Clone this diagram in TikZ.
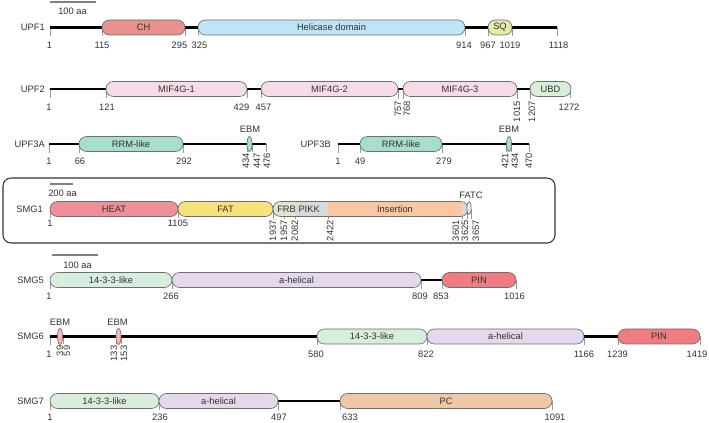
\documentclass[tikz,border=0pt]{standalone}
\usepackage{fontspec}
\setmainfont{Liberation Sans}
\usepackage{xcolor}
\usepackage{tikz}

\definecolor{txtgray}{HTML}{333333}
\definecolor{edgegray}{HTML}{6E6E6E}
\definecolor{chred}{HTML}{E8918D}
\definecolor{heliblue}{HTML}{BEE4F7}
\definecolor{sqyel}{HTML}{E6EBA8}
\definecolor{mifpink}{HTML}{F6DCE9}
\definecolor{ubdgreen}{HTML}{D9EED8}
\definecolor{rrmteal}{HTML}{A6DDCB}
\definecolor{heatred}{HTML}{EE8F99}
\definecolor{fatyel}{HTML}{F7E27C}
\definecolor{frbgreen}{HTML}{DCE6D0}
\definecolor{pikkgray}{HTML}{D9D9D9}
\definecolor{insorange}{HTML}{F9C7A1}
\definecolor{fourteen}{HTML}{D7EEDF}
\definecolor{ahelix}{HTML}{E3D8EC}
\definecolor{pinred}{HTML}{EF7C80}
\definecolor{ebmpink}{HTML}{F3B9BE}
\definecolor{ebmedge}{HTML}{9E5B55}
\definecolor{pcorange}{HTML}{EEC7A7}

\begin{document}
\begin{tikzpicture}[x=0.75pt, y=-0.75pt,
    every node/.style={font=\fontsize{7}{8}\selectfont, text=txtgray, inner sep=0pt},
    pname/.style={anchor=east},
    chain/.style={line width=1.6pt, black},
    dom/.style={draw=edgegray, line width=0.5pt, rounded corners=5.6pt},
    tick/.style={draw=gray!80, line width=0.4pt},
    vnum/.style={rotate=90, anchor=east},
    sbar/.style={draw=gray, line width=0.8pt}]
    \useasboundingbox (0,0) rectangle (709,423);

    % UPF1
    \def\yy{27.5}
    \draw[sbar] (50,2) -- (96,2);
    \node[anchor=west] (bar1) at (58,11) {100 aa};
    \node[pname] (upf1) at (45,\yy) {UPF1};
    \foreach \x/\lx/\n in {50/49.5/1,102/102/115,185/179.5/295,198/199.5/325,465/464/914,488/488/967,512/510/1019,557/558.5/1118} {
        \draw[tick] (\x,\yy) -- ++(0,9);
        \node (upf1-n\n) at (\lx,\yy+17.5) {\n};
    }
    \coordinate (upf1-s) at (50,\yy);
    \coordinate (upf1-e) at (557,\yy);
    \draw[chain] (upf1-s) -- (upf1-e);
    \foreach \nm/\xa/\xb/\col/\txt in {ch/102/185/chred/CH, hel/198/465/heliblue/Helicase domain, sq/488/512/sqyel/SQ}
        \draw[dom, fill=\col] (\xa,\yy-7.5) rectangle (\xb,\yy+7.5)
            node (upf1-\nm) at ({(\xa+\xb)/2},\yy) {\txt};

    % UPF2
    \def\yy{89}
    \node[pname] (upf2) at (45,\yy) {UPF2};
    \foreach \x/\lx/\n in {50/49/1,106/107/121,247/241.5/429,261/263.5/457,570/569/1272} {
        \draw[tick] (\x,\yy) -- ++(0,9);
        \node (upf2-n\n) at (\lx,\yy+18.5) {\n};
    }
    \foreach \x/\lx/\n in {398/398/757,403/407/768,517/517/1015,530/532/1207} {
        \draw[tick] (\x,\yy) -- ++(0,10);
        \node[vnum] (upf2-n\n) at (\lx,\yy+12) {\n};
    }
    \coordinate (upf2-s) at (50,\yy);
    \coordinate (upf2-e) at (570,\yy);
    \draw[chain] (upf2-s) -- (upf2-e);
    \foreach \nm/\xa/\xb/\col/\txt in {mif1/106/247/mifpink/MIF4G-1, mif2/261/398/mifpink/MIF4G-2, mif3/403/517/mifpink/MIF4G-3, ubd/530/571/ubdgreen/UBD}
        \draw[dom, fill=\col] (\xa,\yy-7.5) rectangle (\xb,\yy+7.5)
            node (upf2-\nm) at ({(\xa+\xb)/2},\yy) {\txt};

    % UPF3A and UPF3B
    \def\yy{144}
    \node[pname] (upf3a) at (45,\yy) {UPF3A};
    \node[pname] (upf3b) at (331,\yy) {UPF3B};
    \foreach \x/\lx/\n in {49/49/1,79/80/66,183/184/292} {
        \draw[tick] (\x,\yy) -- ++(0,9);
        \node (upf3a-n\n) at (\lx,\yy+17) {\n};
    }
    \foreach \x/\lx/\n in {338/338/1,360/360/49,442/444/279} {
        \draw[tick] (\x,\yy) -- ++(0,9);
        \node (upf3b-n\n) at (\lx,\yy+17) {\n};
    }
    \foreach \x/\lx/\n in {247/246/434,252/257/447,266/267/476} {
        \draw[tick] (\x,\yy) -- ++(0,8);
        \node[vnum] (upf3a-n\n) at (\lx,\yy+9) {\n};
    }
    \foreach \x/\lx/\n in {506.5/505/421,511.5/515/434,529/529/470} {
        \draw[tick] (\x,\yy) -- ++(0,8);
        \node[vnum] (upf3b-n\n) at (\lx,\yy+9) {\n};
    }
    \coordinate (upf3a-s) at (49,\yy);
    \coordinate (upf3a-e) at (266,\yy);
    \coordinate (upf3b-s) at (338,\yy);
    \coordinate (upf3b-e) at (529,\yy);
    \draw[chain] (upf3a-s) -- (upf3a-e);
    \draw[chain] (upf3b-s) -- (upf3b-e);
    \draw[dom, fill=rrmteal] (79,\yy-7.5) rectangle (183,\yy+7.5)
        node (upf3a-rrm) at (131,\yy) {RRM-like};
    \draw[dom, fill=rrmteal] (360,\yy-7.5) rectangle (442,\yy+7.5)
        node (upf3b-rrm) at (401,\yy) {RRM-like};
    \draw[draw=edgegray, line width=0.5pt, fill=rrmteal] (249.5,\yy) ellipse [x radius=1.9pt, y radius=5.6pt];
    \draw[draw=edgegray, line width=0.5pt, fill=rrmteal] (509,\yy) ellipse [x radius=1.9pt, y radius=5.6pt];
    \node (upf3a-ebm) at (250,\yy-15) {EBM};
    \node (upf3b-ebm) at (509,\yy-15) {EBM};

    % SMG1 (boxed)
    \def\yy{209}
    \draw[draw=black!80, line width=0.8pt, rounded corners=6pt] (3,178) rectangle (555,243);
    \draw[sbar] (50,184) -- (73,184);
    \node[anchor=west] (bar2) at (48,193) {200 aa};
    \node[pname] (smg1) at (43,\yy) {SMG1};
    \foreach \x/\n in {50/1,178/1105} {
        \draw[tick] (\x,\yy) -- ++(0,9);
        \node (smg1-n\n) at (\x,\yy+14.5) {\n};
    }
    \foreach \x/\lx/\n in {273/273/1937,284/284/1957,295/295/2082,328/330/2422,462/456/3601,467/465/3625,471/476/3657} {
        \draw[tick] (\x,\yy) -- ++(0,10);
        \node[vnum] (smg1-n\n) at (\lx,\yy+11) {\n};
    }
    \draw[dom, fill=heatred] (50,\yy-7.5) rectangle (178,\yy+7.5)
        node (smg1-heat) at (114,\yy) {HEAT};
    \draw[dom, fill=fatyel] (178,\yy-7.5) rectangle (273,\yy+7.5)
        node (smg1-fat) at (225.5,\yy) {FAT};
    \begin{scope}
        \clip[rounded corners=5.6pt] (273,\yy-7.5) rectangle (468,\yy+7.5);
        \fill[frbgreen] (273,\yy-7.5) rectangle (295,\yy+7.5);
        \fill[pikkgray] (295,\yy-7.5) rectangle (328,\yy+7.5);
        \fill[insorange] (328,\yy-7.5) rectangle (462,\yy+7.5);
        \fill[pikkgray] (462,\yy-7.5) rectangle (468,\yy+7.5);
    \end{scope}
    \draw[dom] (273,\yy-7.5) rectangle (468,\yy+7.5);
    \node[anchor=west] (smg1-pikk) at (277,\yy) {FRB PIKK};
    \node (smg1-ins) at (395,\yy) {Insertion};
    \draw[draw=edgegray, line width=0.5pt, fill=pikkgray!50] (469,\yy-1) ellipse [x radius=1.6pt, y radius=4.9pt];
    \node (smg1-fatc) at (471,\yy-14) {FATC};

    % SMG5
    \def\yy{280}
    \draw[sbar] (52,255) -- (98,255);
    \node[anchor=west] (bar3) at (63,265) {100 aa};
    \node[pname] (smg5) at (44,\yy) {SMG5};
    \foreach \x/\lx/\n in {50/49/1,172/171/266,421/420/809,442/441/853,516/514.5/1016} {
        \draw[tick] (\x,\yy) -- ++(0,9);
        \node (smg5-n\n) at (\lx,\yy+16) {\n};
    }
    \coordinate (smg5-s) at (421,\yy);
    \coordinate (smg5-e) at (442,\yy);
    \draw[chain] (smg5-s) -- (smg5-e);
    \foreach \nm/\xa/\xb/\col/\txt in {tt/50/172/fourteen/14-3-3-like, ah/172/421/ahelix/a-helical, pin/442/516/pinred/PIN}
        \draw[dom, fill=\col] (\xa,\yy-7.5) rectangle (\xb,\yy+7.5)
            node (smg5-\nm) at ({(\xa+\xb)/2},\yy) {\txt};

    % SMG6
    \def\yy{336.5}
    \node[pname] (smg6) at (44,\yy) {SMG6};
    \foreach \x/\lx/\n in {50/49/1,317/316/580,427/426/822,584/584/1166,618/617.5/1239,700/697/1419} {
        \draw[tick] (\x,\yy) -- ++(0,9);
        \node (smg6-n\n) at (\lx,\yy+17.5) {\n};
    }
    \foreach \x/\lx/\n in {58/60/39,63/67/59,116/114/133,121/124/153} {
        \draw[tick] (\x,\yy) -- ++(0,8);
        \node[vnum] (smg6-n\n) at (\lx,\yy+9) {\n};
    }
    \coordinate (smg6-s) at (50,\yy);
    \coordinate (smg6-e) at (700,\yy);
    \draw[chain] (smg6-s) -- (smg6-e);
    \foreach \x in {60,118.5}
        \draw[draw=ebmedge, line width=0.5pt, fill=ebmpink] (\x,\yy) ellipse [x radius=1.9pt, y radius=6pt];
    \node (smg6-ebm1) at (60,\yy-14.5) {EBM};
    \node (smg6-ebm2) at (117.5,\yy-14.5) {EBM};
    \foreach \nm/\xa/\xb/\col/\txt in {tt/317/427/fourteen/14-3-3-like, ah/427/584/ahelix/a-helical, pin/618/700/pinred/PIN}
        \draw[dom, fill=\col] (\xa,\yy-7.5) rectangle (\xb,\yy+7.5)
            node (smg6-\nm) at ({(\xa+\xb)/2},\yy) {\txt};

    % SMG7
    \def\yy{401}
    \node[pname] (smg7) at (44,\yy) {SMG7};
    \foreach \x/\lx/\n in {50/50/1,159/160/236,278/279/497,340/350/633,552/555/1091} {
        \draw[tick] (\x,\yy) -- ++(0,9);
        \node (smg7-n\n) at (\lx,\yy+16) {\n};
    }
    \coordinate (smg7-s) at (278,\yy);
    \coordinate (smg7-e) at (340,\yy);
    \draw[chain] (smg7-s) -- (smg7-e);
    \foreach \nm/\xa/\xb/\col/\txt in {tt/50/159/fourteen/14-3-3-like, ah/159/278/ahelix/a-helical, pc/340/552/pcorange/PC}
        \draw[dom, fill=\col] (\xa,\yy-7.5) rectangle (\xb,\yy+7.5)
            node (smg7-\nm) at ({(\xa+\xb)/2},\yy) {\txt};
\end{tikzpicture}
\end{document}
